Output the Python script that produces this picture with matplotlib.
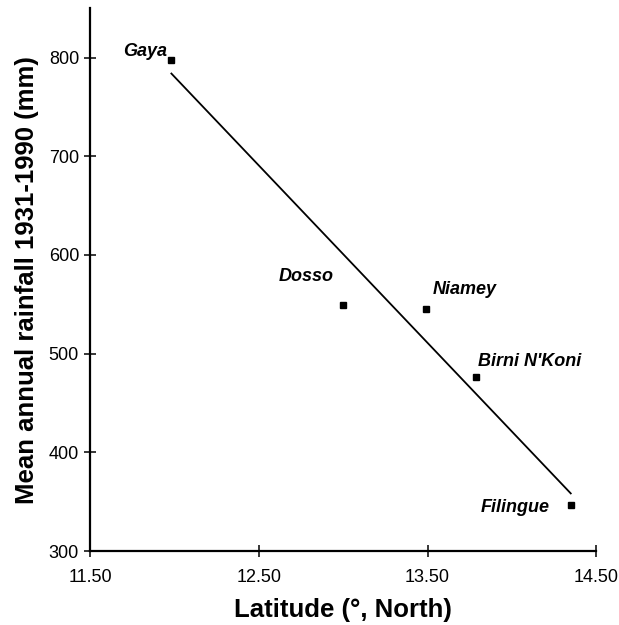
import matplotlib.pyplot as plt
import numpy as np

plt.rcParams['font.family'] = ['Liberation Sans', 'DejaVu Sans']

# Station data
stations = ['Gaya', 'Dosso', 'Niamey', "Birni N'Koni", 'Filingue']
latitude = [11.98, 13.00, 13.49, 13.79, 14.35]
rainfall = [797.5, 549, 545, 476.6, 346.6]

# label offsets (points) and alignment for each station
label_offsets = [(-3, 6), (-7, 21), (5, 14), (1, 11), (-15, -2)]
label_ha = ['right', 'right', 'left', 'left', 'right']

fig = plt.figure(figsize=(6.19, 6.25), dpi=100)
ax = fig.add_axes([0.1462, 0.1184, 0.8167, 0.8683])

ax.plot(latitude, rainfall, 's', color='black', markersize=5, zorder=3)

# least squares line across the data range
slope, intercept = np.polyfit(latitude, rainfall, 1)
xfit = np.array([min(latitude), max(latitude)])
ax.plot(xfit, slope * xfit + intercept, color='black', linewidth=1.3)

for name, x, y, off, ha in zip(stations, latitude, rainfall, label_offsets, label_ha):
    ax.annotate(name, (x, y), xytext=off, textcoords='offset points',
                ha=ha, va='center', fontsize=13, style='italic', fontweight='bold')

ax.set_xlim(11.5, 14.5)
ax.set_ylim(300, 850)
ax.set_xticks([11.5, 12.5, 13.5, 14.5])
ax.set_xticklabels(['11.50', '12.50', '13.50', '14.50'])
ax.set_yticks([300, 400, 500, 600, 700, 800])

for s in ['top', 'right']:
    ax.spines[s].set_visible(False)
for s in ['left', 'bottom']:
    ax.spines[s].set_linewidth(1.6)

ax.tick_params(axis='both', direction='inout', length=8.5, width=1.1, labelsize=13)
ax.tick_params(axis='x', pad=9)
ax.tick_params(axis='y', pad=4)

ax.set_xlabel('Latitude (°, North)', fontsize=18.5, fontweight='bold', labelpad=8)
ax.set_ylabel('Mean annual rainfall 1931-1990 (mm)', fontsize=18.5, fontweight='bold', labelpad=7)

fig.savefig('out.png', dpi=100)
